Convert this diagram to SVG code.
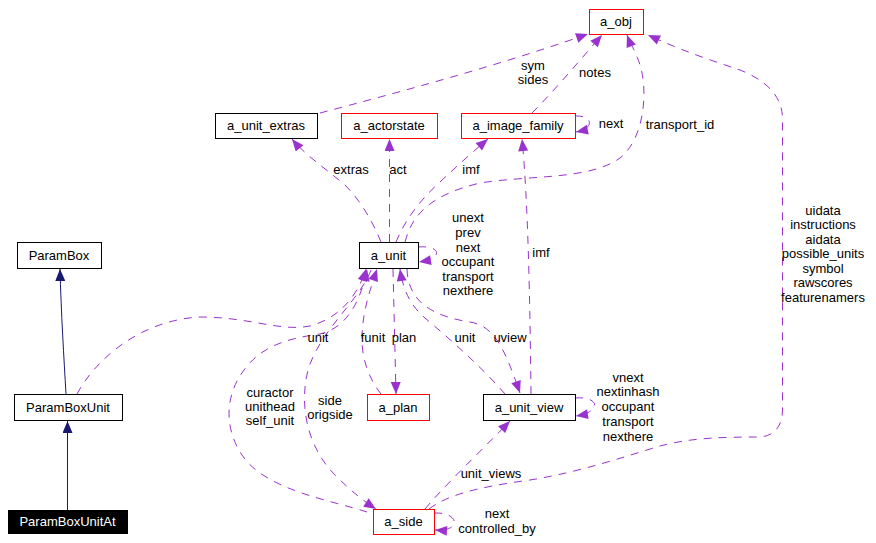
<svg xmlns="http://www.w3.org/2000/svg" width="876" height="543" viewBox="0 0 876 543">
<style>
text{font-family:"Liberation Sans",Arial,sans-serif;font-size:13px;fill:#000;text-anchor:middle}
.nb rect{fill:#fff;stroke:#000;stroke-width:1}
.nr rect{fill:#fff;stroke:#ff0000;stroke-width:1}
.nk rect{fill:#000;stroke:#000}
.nk text{fill:#fff}
.u{fill:none;stroke:#9a32cd;stroke-width:1;stroke-dasharray:8,7;marker-end:url(#ap)}
.i{fill:none;stroke:#191970;stroke-width:1;marker-end:url(#an)}
</style>
<defs>
<marker id="ap" viewBox="0 0 12 10" refX="12" refY="5" markerWidth="13" markerHeight="10" markerUnits="userSpaceOnUse" orient="auto"><path d="M0,0 L12,5 L0,10 z" fill="#9a32cd"/></marker>
<marker id="an" viewBox="0 0 12 10" refX="12" refY="5" markerWidth="13" markerHeight="10" markerUnits="userSpaceOnUse" orient="auto"><path d="M0,0 L12,5 L0,10 z" fill="#191970"/></marker>
</defs>
<rect width="876" height="543" fill="#fff"/>
<g id="connectors">
<path class="i" d="M66,394 C64,360 61,310 60,269"/>
<path class="i" d="M67.5,510 L67.5,421"/>
<path class="u" d="M77,394 C95,360 140,320 200,317 C250,317 280,332 310,326 C340,318 358,295 366,269"/>
<path class="u" d="M367,512 C330,500 265,490 242,455 C222,425 226,390 248,365 C265,345 290,338 320,334 C345,328 360,305 367,269"/>
<path class="u" d="M371,270 C360,300 320,330 308,370 C298,410 310,450 335,475 C350,490 362,500 376,509"/>
<path class="u" d="M393,269 L396,394"/>
<path class="u" d="M381,394 C370,380 361,360 362,335 C363,310 370,290 377,269"/>
<path class="u" d="M407,269 C408,300 430,316 470,322 C495,326 505,350 520,393"/>
<path class="u" d="M505,394 C480,365 445,335 425,318 C410,305 403,290 400,269"/>
<path class="u" d="M418,247 C440,245 445,258 419,262"/>
<path class="u" d="M381,242 C372,220 360,200 345,185 C325,168 305,155 292,139"/>
<path class="u" d="M389.5,242 L389.5,139"/>
<path class="u" d="M396,242 C405,220 420,200 440,182 C458,165 475,150 488,139"/>
<path class="u" d="M405,242 C412,215 430,195 480,183 C530,175 590,180 620,158 C645,138 648,90 640,65 C636,52 630,43 627,35"/>
<path class="u" d="M320,113 C400,92 500,65 588,34"/>
<path class="u" d="M532,113 C555,90 580,60 602,35"/>
<path class="u" d="M575,116 C592,115 596,128 576,132"/>
<path class="u" d="M531,394 C530,300 528,200 522,139"/>
<path class="u" d="M429,509 C445,497 470,488 530,480 C580,472 620,458 660,446 C690,438 720,437 760,437 C775,436 782.5,425 782.5,410 L782.5,118 C782,95 765,80 740,70 C710,60 680,50 648,35"/>
<path class="u" d="M425,509 C445,485 480,452 510,421"/>
<path class="u" d="M575,398 C600,396 602,412 576,416"/>
<path class="u" d="M434,513 C460,512 462,532 435,530"/>
</g>
<g id="labels">
<text x="351" y="174">extras</text>
<text x="398" y="174">act</text>
<text x="471" y="174">imf</text>
<text x="533" y="70">sym</text>
<text x="533" y="84">sides</text>
<text x="595" y="77">notes</text>
<text x="611" y="128">next</text>
<text x="680" y="129">transport_id</text>
<text x="468" y="222">unext</text>
<text x="468" y="237">prev</text>
<text x="468" y="251.5">next</text>
<text x="468" y="266">occupant</text>
<text x="468" y="280.5">transport</text>
<text x="468" y="295">nexthere</text>
<text x="541" y="257">imf</text>
<text x="823" y="214.5">uidata</text>
<text x="823" y="229">instructions</text>
<text x="823" y="243.5">aidata</text>
<text x="823" y="258">possible_units</text>
<text x="823" y="272.5">symbol</text>
<text x="823" y="287">rawscores</text>
<text x="823" y="301.5">featurenamers</text>
<text x="318" y="341.5">unit</text>
<text x="373" y="342">funit</text>
<text x="404" y="342">plan</text>
<text x="465" y="342">unit</text>
<text x="510" y="342">uview</text>
<text x="270" y="396.5">curactor</text>
<text x="270" y="410.5">unithead</text>
<text x="270" y="424.5">self_unit</text>
<text x="330" y="404.5">side</text>
<text x="330" y="418.5">origside</text>
<text x="628" y="381.5">vnext</text>
<text x="628" y="395.5">nextinhash</text>
<text x="628" y="410.5">occupant</text>
<text x="628" y="425.5">transport</text>
<text x="628" y="440.5">nexthere</text>
<text x="491" y="477.5">unit_views</text>
<text x="497" y="517.5">next</text>
<text x="497" y="533">controlled_by</text>
</g>
<g id="a_obj" class="nr"><rect x="589.5" y="9.5" width="54" height="25"/><text x="616" y="26">a_obj</text></g>
<g id="a_unit_extras" class="nb"><rect x="215.5" y="113.5" width="102" height="25"/><text x="266" y="130">a_unit_extras</text></g>
<g id="a_actorstate" class="nr"><rect x="341.5" y="113.5" width="96" height="25"/><text x="389" y="130">a_actorstate</text></g>
<g id="a_image_family" class="nr"><rect x="461.5" y="113.5" width="114" height="25"/><text x="518" y="130">a_image_family</text></g>
<g id="a_unit" class="nb"><rect x="359.5" y="242.5" width="59" height="26"/><text x="388.5" y="259.5">a_unit</text></g>
<g id="ParamBox" class="nb"><rect x="17.5" y="242.5" width="84" height="26"/><text x="59" y="259.5">ParamBox</text></g>
<g id="ParamBoxUnit" class="nb"><rect x="14.5" y="394.5" width="108" height="26"/><text x="68" y="411.5">ParamBoxUnit</text></g>
<g id="ParamBoxUnitAt" class="nk"><rect x="8.5" y="510.5" width="119" height="23"/><text x="67.5" y="526">ParamBoxUnitAt</text></g>
<g id="a_plan" class="nr"><rect x="367.5" y="394.5" width="62" height="26"/><text x="398" y="411.5">a_plan</text></g>
<g id="a_unit_view" class="nb"><rect x="483.5" y="394.5" width="92" height="26"/><text x="529" y="411.5">a_unit_view</text></g>
<g id="a_side" class="nr"><rect x="373.5" y="509.5" width="61" height="25"/><text x="403.5" y="526">a_side</text></g>
</svg>
